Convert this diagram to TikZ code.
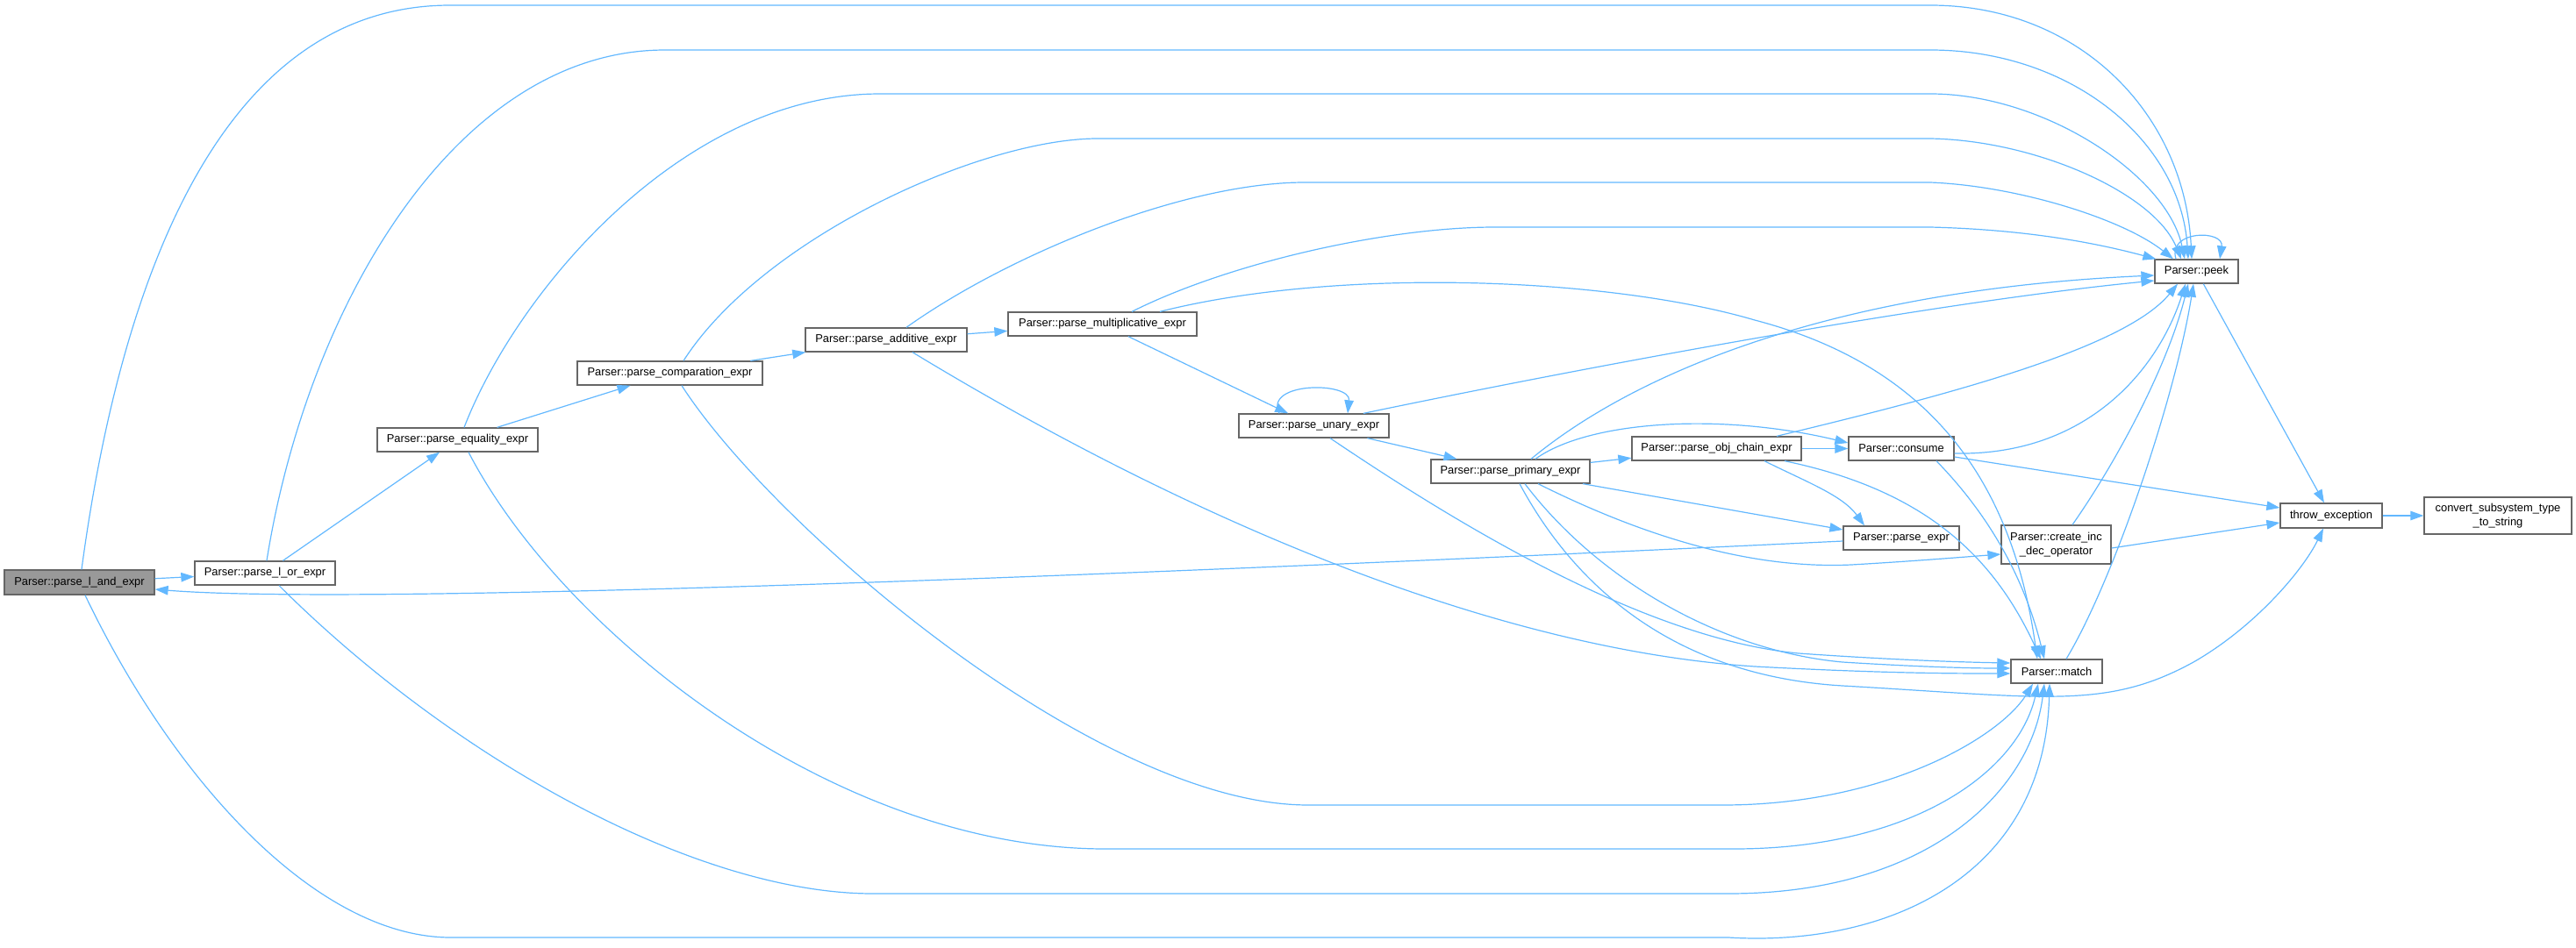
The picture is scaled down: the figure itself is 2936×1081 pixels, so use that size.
\documentclass[tikz,border=0pt]{standalone}
\usepackage{fontspec}
\setmainfont{Liberation Sans}
\usetikzlibrary{arrows.meta}
\definecolor{edgec}{HTML}{63B8FF}
\definecolor{boxc}{HTML}{666666}
\definecolor{hlc}{HTML}{999999}
\begin{document}
\begin{tikzpicture}[x=1pt,y=-1pt,
  fn/.style={draw=boxc, fill=white, line width=1.3pt, inner sep=0pt, text=black,
    font=\fontsize{12.9}{16}\selectfont, align=center},
  hl/.style={fn, fill=hlc},
  call/.style={draw=edgec, line width=1.2pt, -{Triangle[length=15pt,width=10.5pt]}},
  loopline/.style={draw=edgec, line width=1.2pt}]
\useasboundingbox (0,0) rectangle (2936,1081);

% nodes
\node[hl, minimum width=171pt, minimum height=28pt] (land) at (90.5,664) {Parser::parse\_l\_and\_expr};
\node[fn, minimum width=160pt, minimum height=27pt] (lor) at (302,653.5) {Parser::parse\_l\_or\_expr};
\node[fn, minimum width=183pt, minimum height=27pt] (eq) at (521.5,501.5) {Parser::parse\_equality\_expr};
\node[fn, minimum width=211pt, minimum height=27pt] (comp) at (763.5,425.5) {Parser::parse\_comparation\_expr};
\node[fn, minimum width=184pt, minimum height=27pt] (add) at (1010,387.5) {Parser::parse\_additive\_expr};
\node[fn, minimum width=215pt, minimum height=27pt] (mult) at (1256.5,369.5) {Parser::parse\_multiplicative\_expr};
\node[fn, minimum width=171pt, minimum height=27pt] (unary) at (1497.5,485.5) {Parser::parse\_unary\_expr};
\node[fn, minimum width=181pt, minimum height=27pt] (primary) at (1721.5,537.5) {Parser::parse\_primary\_expr};
\node[fn, minimum width=193pt, minimum height=27pt] (obj) at (1956.5,511.5) {Parser::parse\_obj\_chain\_expr};
\node[fn, minimum width=120pt, minimum height=27pt] (consume) at (2167,511.5) {Parser::consume};
\node[fn, minimum width=132pt, minimum height=27pt] (pexpr) at (2167,613.5) {Parser::parse\_expr};
\node[fn, minimum width=125pt, minimum height=44pt] (cinc) at (2343.5,621) {Parser::create\_inc\\\_dec\_operator};
\node[fn, minimum width=95pt, minimum height=27pt] (peek) at (2503.5,309.5) {Parser::peek};
\node[fn, minimum width=104pt, minimum height=27pt] (match) at (2344,765.5) {Parser::match};
\node[fn, minimum width=116pt, minimum height=28pt] (throw) at (2657,588) {throw\_exception};
\node[fn, minimum width=168pt, minimum height=42pt] (conv) at (2847,588) {convert\_subsystem\_type\\\_to\_string};

% main chain
\draw[call] (land) -- (lor);
\draw[call] (lor) -- (eq);
\draw[call] (eq) -- (comp);
\draw[call] (comp) -- (add);
\draw[call] (add) -- (mult);
\draw[call] (mult) -- (unary);
\draw[call] (unary) -- (primary);
\draw[call] (primary) -- (obj);
\draw[call] (obj) -- (consume);
\draw[call] (peek) -- (throw);
\draw[call] (throw) -- (conv);

% arcs over the top to peek
\draw[call] ([xshift=2.5pt]land.north) .. controls (140,300) and (260,6) .. (513,6) -- (2200,6)
  .. controls (2370,6) and (2490,130) .. ([xshift=-5.5pt]peek.north);
\draw[call] ([xshift=2pt]lor.north) .. controls (350,350) and (520,57) .. (758,57) -- (2200,57)
  .. controls (2360,57) and (2485,160) .. ([xshift=-9.5pt]peek.north);
\draw[call] ([xshift=7.5pt]eq.north) .. controls (590,330) and (780,107) .. (1003,107) -- (2200,107)
  .. controls (2330,107) and (2470,200) .. ([xshift=-13.5pt]peek.north);
\draw[call] ([xshift=15.5pt]comp.north) .. controls (870,270) and (1120,158) .. (1251,158) -- (2200,158)
  .. controls (2320,160) and (2455,220) .. ([xshift=-17.5pt]peek.north);
\draw[call] ([xshift=23pt]add.north) .. controls (1150,290) and (1350,208) .. (1487,208) -- (2200,208)
  .. controls (2300,212) and (2420,250) .. ([xshift=-26.5pt]peek.north);
\draw[call] ([xshift=33.5pt]mult.north) .. controls (1400,300) and (1580,259) .. (1704,259) -- (2200,259)
  .. controls (2320,262) and (2400,280) .. ([xshift=2pt]peek.north west);
\draw[call] ([xshift=-23.5pt]peek.north) .. controls (2470,262) and (2535,262) .. ([xshift=26.5pt]peek.north);

% other edges to peek
\draw[call] ([xshift=56.5pt]unary.north) .. controls (1800,420) and (2200,345) .. ([yshift=-10.5pt]peek.west);
\draw[call] ([xshift=23.5pt]primary.north) .. controls (1870,420) and (2100,330) .. ([yshift=-4.5pt]peek.west);
\draw[call] ([xshift=68.5pt]obj.north) .. controls (2200,455) and (2420,400) .. ([xshift=-21.5pt]peek.south);
\draw[call] ([yshift=-5.5pt]consume.east) .. controls (2380,520) and (2460,420) .. ([xshift=-12.5pt]peek.south);
\draw[call] ([xshift=18.5pt]cinc.north) .. controls (2410,530) and (2470,420) .. ([xshift=-9.5pt]peek.south);
\draw[call] ([xshift=11pt]match.north) .. controls (2410,660) and (2480,450) .. ([xshift=-3.5pt]peek.south);

% throw_exception
\draw[call] ([yshift=-9.5pt]consume.east) -- ([yshift=9pt]throw.west);
\draw[call] ([yshift=-4pt]cinc.east) -- ([yshift=-8pt]throw.west);
\draw[call] ([xshift=10.5pt]primary.south) .. controls (1790,660) and (1900,770) .. (2100,782)
  .. controls (2330,795) and (2400,810) .. (2500,755)
  .. controls (2570,715) and (2625,650) .. ([xshift=-9pt]throw.south);

% primary, obj, consume
\draw[call] ([xshift=28.5pt]primary.north) .. controls (1810,480) and (1960,470) .. ([yshift=6.5pt]consume.west);
\draw[call] ([xshift=82.5pt]primary.south) -- ([yshift=9.5pt]pexpr.west);
\draw[call] ([xshift=54.5pt]obj.south) .. controls (2060,550) and (2100,565) .. ([xshift=-42pt]pexpr.north);
\draw[call] ([xshift=31.5pt]primary.south) .. controls (1850,600) and (1980,650) .. (2110,644)
  .. controls (2180,640) and (2240,635) .. ([yshift=-11pt]cinc.west);
\draw[call] ([yshift=-3.5pt]pexpr.west) .. controls (1200,660) and (400,690) .. ([yshift=-8pt]land.east);
\draw[call] ([xshift=-39.5pt]unary.north) .. controls (1440,435) and (1540,435) .. ([xshift=38.5pt]unary.north);

% edges into match from the left
\draw[call] ([xshift=18.5pt]unary.south) .. controls (1650,590) and (1870,728) .. (2050,745)
  .. controls (2150,752) and (2230,755) .. ([yshift=9.5pt]match.west);
\draw[call] ([xshift=16.5pt]primary.south) .. controls (1820,660) and (1960,742) .. (2100,755)
  .. controls (2180,760) and (2240,762) .. ([yshift=3.5pt]match.west);
\draw[call] ([xshift=30pt]add.south) .. controls (1350,590) and (1700,740) .. (2000,760)
  .. controls (2150,768) and (2230,768) .. ([yshift=-2.5pt]match.west);

% edges into match from above
\draw[call] ([xshift=65.5pt]mult.north) .. controls (1520,305) and (1830,315) .. (2000,365)
  .. controls (2210,420) and (2295,560) .. ([xshift=-22pt]match.north);
\draw[call] ([xshift=77.5pt]obj.south) .. controls (2200,560) and (2275,640) .. ([xshift=-18pt]match.north);
\draw[call] ([xshift=40pt]consume.south) .. controls (2260,580) and (2305,650) .. ([xshift=-14pt]match.north);

% arcs underneath to match
\draw[call] ([xshift=13.5pt]comp.south) .. controls (880,600) and (1250,918) .. (1491,918) -- (1963,918)
  .. controls (2150,918) and (2280,840) .. ([xshift=-27pt]match.south);
\draw[call] ([xshift=12.5pt]eq.south) .. controls (640,720) and (950,968) .. (1260,968) -- (1976,968)
  .. controls (2180,968) and (2300,880) .. ([xshift=-21pt]match.south);
\draw[call] ([xshift=16pt]lor.south) .. controls (518,867) and (795,1019) .. (995,1019) -- (1970,1019)
  .. controls (2200,1019) and (2315,900) .. ([xshift=-14pt]match.south);
\draw[call] ([xshift=6.5pt]land.south) .. controls (197,888) and (360,1069) .. (514,1069) -- (1970,1069)
  .. controls (2150,1080) and (2330,1000) .. ([xshift=-8pt]match.south);
\end{tikzpicture}
\end{document}
